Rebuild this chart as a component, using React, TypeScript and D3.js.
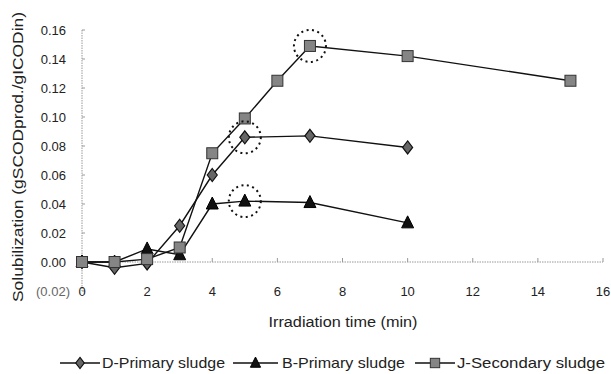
import React from "react"
import * as d3 from "d3"

const W = 611
const H = 374

const dTime = [0, 1, 2, 3, 4, 5, 7, 10]
const dPrimary = [0, -0.004, -0.001, 0.025, 0.06, 0.086, 0.087, 0.079]

const bTime = [0, 1, 2, 3, 4, 5, 7, 10]
const bPrimary = [0, 0, 0.009, 0.005, 0.04, 0.042, 0.041, 0.027]

const jTime = [0, 1, 2, 3, 4, 5, 6, 7, 10, 15]
const jSecondary = [0, 0, 0.002, 0.01, 0.075, 0.099, 0.125, 0.149, 0.142, 0.125]

const yTicks = [-0.02, 0, 0.02, 0.04, 0.06, 0.08, 0.1, 0.12, 0.14, 0.16]
const xTicks = [0, 2, 4, 6, 8, 10, 12, 14, 16]

// highlighted points: [time, value]
const circled = [
  [7, 0.149],
  [5, 0.086],
  [5, 0.042],
]

const legendItems = [
  { label: "D-Primary sludge", shape: "diamond", x0: 60, x1: 100, tx: 102, tw: 123 },
  { label: "B-Primary sludge", shape: "triangle", x0: 233, x1: 278, tx: 282, tw: 123 },
  { label: "J-Secondary sludge", shape: "square", x0: 415, x1: 455, tx: 457, tw: 148 },
]

const x = d3.scaleLinear().domain([0, 16]).range([82, 603])
const y = d3.scaleLinear().domain([-0.02, 0.16]).range([291, 30])

const FONT = "'Liberation Sans', Arial, sans-serif"

function Marker({ shape, cx, cy, s = 1 }: { shape: string; cx: number; cy: number; s?: number }) {
  if (shape === "square") {
    const h = 5.5 * s
    return (
      <rect x={cx - h} y={cy - h} width={2 * h} height={2 * h} fill="#858585" stroke="#333" strokeWidth={1} />
    )
  }
  if (shape === "diamond") {
    const p = `${cx},${cy - 6.5 * s} ${cx + 5 * s},${cy} ${cx},${cy + 6.5 * s} ${cx - 5 * s},${cy}`
    return <polygon points={p} fill="#666" stroke="#111" strokeWidth={1.2} />
  }
  const p = `${cx},${cy - 7 * s} ${cx + 6 * s},${cy + 5 * s} ${cx - 6 * s},${cy + 5 * s}`
  return <polygon points={p} fill="#111" stroke="#000" strokeWidth={1} />
}

function Series({ t, v, shape }: { t: number[]; v: number[]; shape: string }) {
  const line = d3
    .line<number>()
    .x((_, i) => x(t[i]))
    .y(d => y(d))
  return (
    <g>
      <path d={line(v) || ""} fill="none" stroke="#111" strokeWidth={1.4} />
      {v.map((d, i) => (
        <Marker key={i} shape={shape} cx={x(t[i])} cy={y(d)} />
      ))}
    </g>
  )
}

export default function App() {
  const fmt = d3.format(".2f")
  return (
    <svg
      width={W}
      height={H}
      style={{ position: "absolute", left: 0, top: 0, background: "#fff" }}
      fontFamily={FONT}
    >
      {/* axes */}
      <line x1={x(0)} x2={x(0)} y1={y(0.16)} y2={y(-0.02)} stroke="#999" strokeWidth={1} strokeDasharray="1.5,1" />
      <line x1={x(0)} x2={x(16)} y1={y(0)} y2={y(0)} stroke="#999" strokeWidth={1} strokeDasharray="1.5,1" />
      {yTicks.map(t => (
        <line key={t} x1={x(0)} x2={x(0) + 3} y1={y(t)} y2={y(t)} stroke="#999" />
      ))}
      {xTicks.map(t => (
        <line key={t} x1={x(t)} x2={x(t)} y1={y(0)} y2={y(0) - 4} stroke="#999" />
      ))}
      {yTicks.map(t => (
        <text
          key={t}
          x={t < 0 ? 70 : 66}
          y={y(t) + 5}
          textAnchor="end"
          fontSize={13}
          fill={t < 0 ? "#666" : "#222"}
        >
          {t < 0 ? `(${fmt(-t)})` : fmt(t)}
        </text>
      ))}
      {xTicks.map(t => (
        <text key={t} x={x(t)} y={y(-0.02) + 5} textAnchor="middle" fontSize={13} fill="#222">
          {t}
        </text>
      ))}
      <text
        x={343}
        y={327}
        textAnchor="middle"
        fontSize={14}
        fill="#222"
        textLength={149}
        lengthAdjust="spacingAndGlyphs"
      >
        Irradiation time (min)
      </text>
      <text
        transform="translate(23,157) rotate(-90)"
        textAnchor="middle"
        fontSize={14}
        fill="#222"
        textLength={290}
        lengthAdjust="spacingAndGlyphs"
      >
        Solubilization (gSCODprod./gICODin)
      </text>

      {/* data */}
      <Series t={dTime} v={dPrimary} shape="diamond" />
      <Series t={bTime} v={bPrimary} shape="triangle" />
      <Series t={jTime} v={jSecondary} shape="square" />

      {circled.map(([t, v], i) => (
        <circle
          key={i}
          cx={x(t)}
          cy={y(v)}
          r={16}
          fill="none"
          stroke="#111"
          strokeWidth={2}
          strokeDasharray="2,3.5"
        />
      ))}

      {/* legend */}
      {legendItems.map(it => (
        <g key={it.label}>
          <line x1={it.x0} x2={it.x1} y1={363} y2={363} stroke="#111" strokeWidth={1.4} />
          <Marker shape={it.shape} cx={(it.x0 + it.x1) / 2} cy={363} s={0.85} />
          <text
            x={it.tx}
            y={368}
            fontSize={15}
            fill="#222"
            textLength={it.tw}
            lengthAdjust="spacingAndGlyphs"
          >
            {it.label}
          </text>
        </g>
      ))}
    </svg>
  )
}
